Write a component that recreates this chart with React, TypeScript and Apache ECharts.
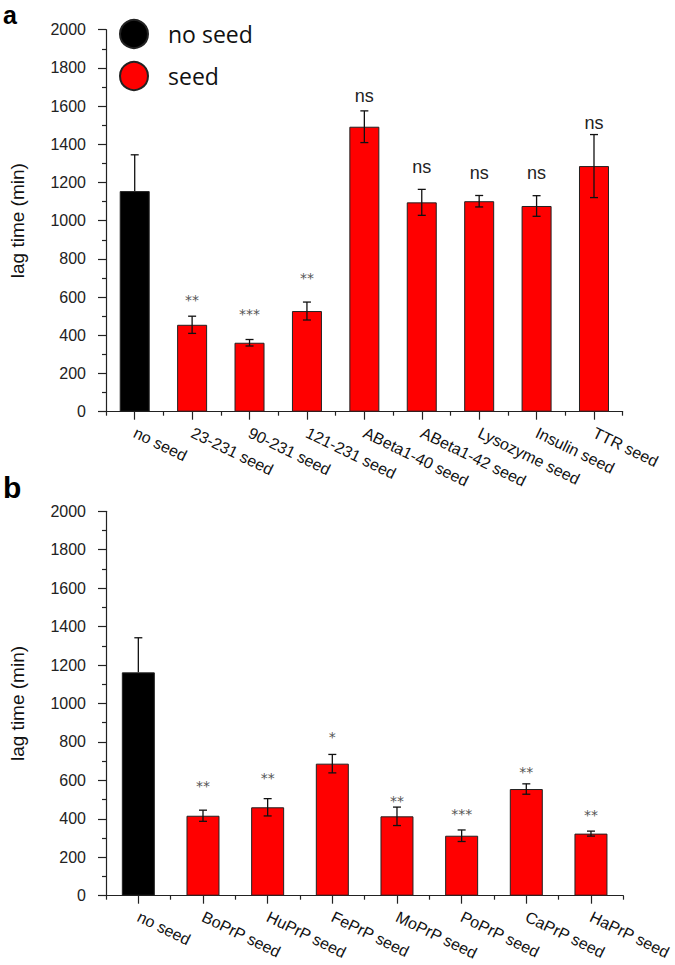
import React, { useEffect, useRef } from "react";
import * as echarts from "echarts";

const catsA = ["no seed", "23-231 seed", "90-231 seed", "121-231 seed", "ABeta1-40 seed", "ABeta1-42 seed", "Lysozyme seed", "Insulin seed", "TTR seed"];
const meansA = [1155, 455, 361, 527, 1492, 1096, 1102, 1077, 1286];
const errsA = [190, 45, 17, 47, 83, 68, 30, 54, 165];
const sigA = ["", "**", "***", "**", "ns", "ns", "ns", "ns", "ns"];
const sigYA = [0, 607, 532, 721, 1653, 1283, 1248, 1248, 1513];

const catsB = ["no seed", "BoPrP seed", "HuPrP seed", "FePrP seed", "MoPrP seed", "PoPrP seed", "CaPrP seed", "HaPrP seed"];
const meansB = [1162, 416, 460, 687, 413, 312, 555, 323];
const errsB = [180, 29, 45, 48, 48, 30, 27, 13];
const sigB = ["", "**", "**", "*", "**", "***", "**", "**"];
const sigYB = [0, 593, 632, 848, 515, 446, 663, 441];

const yTicksMax = 2000;
const yInterval = 200;

const AXIS = "#222";

function App() {
  const ref = useRef<HTMLDivElement>(null);
  useEffect(() => {
    if (!ref.current) return;
    const chart = echarts.init(ref.current, null, { renderer: "svg" });

    const grids = [
      { left: 99, top: 29.7, width: 523.7, height: 382 },
      { left: 99, top: 511.3, width: 524.3, height: 384.4 },
    ];

    const mkX = (cats: string[], gi: number) => [
      {
        type: "category",
        gridIndex: gi,
        data: cats,
        axisLine: { show: true, lineStyle: { color: AXIS, width: 1.2 } },
        axisTick: { show: true, alignWithLabel: true, interval: 0, length: 8, lineStyle: { color: AXIS, width: 1.2 } },
        axisLabel: { interval: 0, rotate: -26, margin: 20, fontSize: 16, fontFamily: "Arial", color: "#111" },
      },
      {
        type: "category",
        gridIndex: gi,
        data: cats,
        position: "bottom",
        axisLine: { show: false },
        axisTick: { show: true, alignWithLabel: false, interval: 0, length: 4, lineStyle: { color: AXIS, width: 1.2 } },
        axisLabel: { show: false },
      },
    ];

    const mkY = (gi: number) => ({
      type: "value",
      gridIndex: gi,
      min: 0,
      max: yTicksMax,
      interval: yInterval,
      name: "lag time (min)",
      nameLocation: "middle",
      nameGap: 79,
      nameTextStyle: { fontSize: 19, fontFamily: "Arial", color: "#111" },
      axisLine: { show: true, lineStyle: { color: AXIS, width: 1.2 } },
      axisTick: { show: true, length: 8, lineStyle: { color: AXIS, width: 1.2 } },
      minorTick: { show: true, splitNumber: 2, length: 4, lineStyle: { color: AXIS, width: 1.2 } },
      splitLine: { show: false },
      axisLabel: {
        fontSize: 16,
        fontFamily: "Arial",
        color: "#222",
        margin: 20,
        formatter: (v: number) => String(v),
      },
    });

    const barSeries = (means: number[], xi: number, yi: number, bw: number) => [
      {
        name: "no seed",
        type: "bar",
        xAxisIndex: xi,
        yAxisIndex: yi,
        barWidth: bw,
        barGap: "-100%",
        itemStyle: { color: "#000", borderColor: "#222", borderWidth: 1 },
        data: means.map((v, i) => (i === 0 ? v : "-")),
      },
      {
        name: "seed",
        type: "bar",
        xAxisIndex: xi,
        yAxisIndex: yi,
        barWidth: bw,
        barGap: "-100%",
        itemStyle: { color: "#ff0000", borderColor: "#222", borderWidth: 1 },
        data: means.map((v, i) => (i === 0 ? "-" : v)),
      },
    ];

    const errSeries = (means: number[], errs: number[], xi: number, yi: number) => ({
      type: "custom",
      xAxisIndex: xi,
      yAxisIndex: yi,
      z: 10,
      silent: true,
      data: means.map((m, i) => [i, m, errs[i]]),
      encode: { x: 0, y: 1 },
      renderItem: (params: any, api: any) => {
        const x = api.value(0);
        const m = api.value(1);
        const e = api.value(2);
        const top = api.coord([x, m + e]);
        const mid = api.coord([x, m]);
        const bot = api.coord([x, m - e]);
        const hw = 4;
        const st = { stroke: "#111", lineWidth: 1.3 };
        // the black "no seed" bar hides the lower half of its error bar
        const upperOnly = params.dataIndex === 0;
        const lowY = upperOnly ? mid[1] : bot[1];
        const children: any[] = [
          { type: "line", shape: { x1: top[0], y1: top[1], x2: top[0], y2: lowY }, style: st },
          { type: "line", shape: { x1: top[0] - hw, y1: top[1], x2: top[0] + hw, y2: top[1] }, style: st },
        ];
        if (!upperOnly) {
          children.push({ type: "line", shape: { x1: bot[0] - hw, y1: bot[1], x2: bot[0] + hw, y2: bot[1] }, style: st });
        }
        return { type: "group", children };
      },
    });

    const sigSeries = (sig: string[], sigY: number[], xi: number, yi: number) => {
      const items = sig.map((s, i) => ({ s, v: [i, sigY[i]] })).filter((d) => d.s !== "");
      return {
        type: "custom",
        xAxisIndex: xi,
        yAxisIndex: yi,
        z: 11,
        silent: true,
        data: items.map((d) => d.v),
        encode: { x: 0, y: 1 },
        renderItem: (params: any, api: any) => {
          const it = items[params.dataIndex];
          const p = api.coord([api.value(0), api.value(1)]);
          const isStar = it.s.indexOf("*") >= 0;
          return {
            type: "text",
            style: {
              text: it.s,
              x: p[0],
              y: isStar ? p[1] + 4 : p[1],
              align: "center",
              verticalAlign: "middle",
              fontSize: isStar ? 14 : 18,
              fontFamily: isStar ? "DejaVu Sans" : "Arial",
              fill: isStar ? "#555" : "#222",
            },
          };
        },
      };
    };

    const option: any = {
      animation: false,
      backgroundColor: "#fff",
      grid: grids,
      legend: {
        data: ["no seed", "seed"],
        orient: "vertical",
        left: 119,
        top: 19,
        padding: 0,
        itemWidth: 58,
        itemHeight: 28,
        itemGap: 12,
        icon: "circle",
        textStyle: { fontSize: 23, fontFamily: "Open Sans", color: "#111" },
      },
      xAxis: [...mkX(catsA, 0), ...mkX(catsB, 1)],
      yAxis: [mkY(0), mkY(1)],
      graphic: [
        { type: "text", style: { text: "a", x: 3, y: 15, fontSize: 25, lineHeight: 25, fontWeight: "bold", fontFamily: "Arial", fill: "#000", verticalAlign: "middle" } },
        { type: "text", style: { text: "b", x: 3, y: 487, fontSize: 30, lineHeight: 30, fontWeight: "bold", fontFamily: "Arial", fill: "#000", verticalAlign: "middle" } },
      ],
      series: [
        ...barSeries(meansA, 0, 0, 30),
        errSeries(meansA, errsA, 0, 0),
        sigSeries(sigA, sigYA, 0, 0),
        ...barSeries(meansB, 2, 1, 33),
        errSeries(meansB, errsB, 2, 1),
        sigSeries(sigB, sigYB, 2, 1),
      ],
    };
    chart.setOption(option);
    return () => chart.dispose();
  }, []);

  return (
    <div
      ref={ref}
      style={{ position: "fixed", left: 0, top: 0, width: 675, height: 965, background: "#fff" }}
    />
  );
}

export default App;
